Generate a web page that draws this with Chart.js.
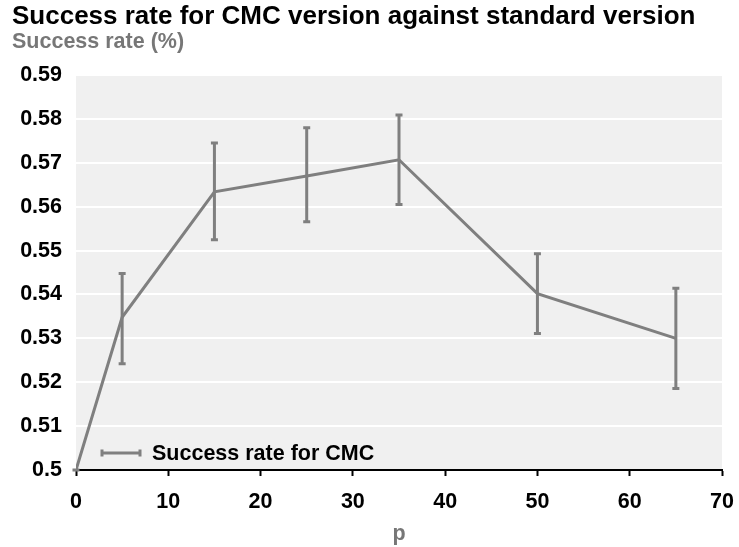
<!DOCTYPE html>
<html>
<head>
<meta charset="utf-8">
<script src="https://cdn.jsdelivr.net/npm/chart.js@4"></script>
<style>
  html, body { margin: 0; padding: 0; background: #fff; }
  #wrap { width: 739px; height: 547px; }
</style>
</head>
<body>
<div id="wrap"><canvas id="myChart" width="739" height="547"></canvas></div>
<script>
// data
var pValues = [0, 5, 15, 25, 35, 50, 65];
var successRate = [0.5, 0.5348, 0.5634, 0.5670, 0.5707, 0.5402, 0.5300];
var errLow = [0.5, 0.5242, 0.5525, 0.5566, 0.5605, 0.5311, 0.5186];
var errHigh = [0.5, 0.5448, 0.5745, 0.5780, 0.5809, 0.5493, 0.5414];
var xTicks = [0, 10, 20, 30, 40, 50, 60, 70];
var yTicks = [0.5, 0.51, 0.52, 0.53, 0.54, 0.55, 0.56, 0.57, 0.58, 0.59];
var yTickLabels = ['0.5', '0.51', '0.52', '0.53', '0.54', '0.55', '0.56', '0.57', '0.58', '0.59'];

var lineColor = '#7f7f7f';
var fontFamily = '"Liberation Sans", Arial, sans-serif';

// grey plot background
var plotBackground = {
    id: 'plotBackground',
    beforeDraw: function (chart) {
        var a = chart.chartArea;
        var ctx = chart.ctx;
        ctx.save();
        ctx.fillStyle = '#f0f0f0';
        ctx.fillRect(a.left, a.top, a.right - a.left, a.bottom - a.top);
        ctx.restore();
    }
};

// vertical error bars with caps
var errorBars = {
    id: 'errorBars',
    afterDatasetsDraw: function (chart) {
        var ctx = chart.ctx;
        var xs = chart.scales.x, ys = chart.scales.y;
        ctx.save();
        ctx.strokeStyle = lineColor;
        ctx.lineWidth = 3;
        for (var i = 0; i < pValues.length; i++) {
            var x = xs.getPixelForValue(pValues[i]);
            var lo = ys.getPixelForValue(errLow[i]);
            var hi = ys.getPixelForValue(errHigh[i]);
            ctx.beginPath();
            ctx.moveTo(x, lo);
            ctx.lineTo(x, hi);
            ctx.moveTo(x - 3.5, lo);
            ctx.lineTo(x + 3.5, lo);
            ctx.moveTo(x - 3.5, hi);
            ctx.lineTo(x + 3.5, hi);
            ctx.stroke();
        }
        ctx.restore();
    }
};

// legend drawn inside the plot, bottom left
var insideLegend = {
    id: 'insideLegend',
    afterDraw: function (chart) {
        var ctx = chart.ctx;
        var a = chart.chartArea;
        var y = a.bottom - 17;
        var x0 = a.left + 25;
        ctx.save();
        ctx.strokeStyle = lineColor;
        ctx.lineWidth = 3;
        ctx.beginPath();
        ctx.moveTo(x0, y);
        ctx.lineTo(x0 + 40, y);
        ctx.moveTo(x0 + 1, y - 3.5);
        ctx.lineTo(x0 + 1, y + 3.5);
        ctx.moveTo(x0 + 39, y - 3.5);
        ctx.lineTo(x0 + 39, y + 3.5);
        ctx.stroke();
        ctx.fillStyle = '#000';
        ctx.font = 'bold 21.5px ' + fontFamily;
        ctx.textBaseline = 'middle';
        ctx.textAlign = 'left';
        ctx.fillText(chart.data.datasets[0].label, x0 + 51, y + 1);
        ctx.restore();
    }
};

var ctx = document.getElementById('myChart');

var lineChart = new Chart(ctx, {
    type: 'line',
    data: {
        datasets: [{
            label: 'Success rate for CMC',
            data: pValues.map(function (p, i) { return { x: p, y: successRate[i] }; }),
            borderColor: lineColor,
            backgroundColor: lineColor,
            borderWidth: 3,
            pointRadius: 0,
            tension: 0
        }]
    },
    options: {
        responsive: false,
        animation: false,
        layout: { padding: { left: 12, right: 17, top: 0, bottom: 0 } },
        plugins: {
            legend: { display: false },
            tooltip: { enabled: false },
            title: {
                display: true,
                text: 'Success rate for CMC version against standard version',
                align: 'start',
                color: '#000',
                font: { family: fontFamily, size: 26, weight: 'bold', lineHeight: 1.1 },
                padding: { top: 3, bottom: 0 }
            },
            subtitle: {
                display: true,
                text: 'Success rate (%)',
                align: 'start',
                color: '#777777',
                font: { family: fontFamily, size: 21.5, weight: 'bold', lineHeight: 1 },
                padding: { top: 0, bottom: 22 }
            }
        },
        scales: {
            x: {
                type: 'linear',
                min: 0,
                max: 70,
                afterBuildTicks: function (scale) {
                    scale.ticks = xTicks.map(function (v) { return { value: v }; });
                },
                afterFit: function (scale) {
                    scale.height = 77;
                    scale.paddingLeft = 0;
                    scale.paddingRight = 0;
                },
                grid: {
                    drawOnChartArea: false,
                    drawTicks: true,
                    tickLength: 6,
                    tickWidth: 2,
                    tickColor: '#000'
                },
                border: { display: true, color: '#000', width: 2 },
                ticks: {
                    color: '#000',
                    padding: 13,
                    maxRotation: 0,
                    font: { family: fontFamily, size: 21.5, weight: 'bold' }
                },
                title: {
                    display: true,
                    text: 'p',
                    color: '#777777',
                    font: { family: fontFamily, size: 21.5, weight: 'bold', lineHeight: 1.2 },
                    padding: { top: 0, bottom: 0 }
                }
            },
            y: {
                type: 'linear',
                min: 0.5,
                max: 0.59,
                afterBuildTicks: function (scale) {
                    scale.ticks = yTicks.map(function (v) { return { value: v }; });
                },
                afterFit: function (scale) { scale.width = 64; },
                grid: {
                    color: '#ffffff',
                    lineWidth: 2,
                    drawTicks: false
                },
                border: { display: false },
                ticks: {
                    color: '#000',
                    padding: 14,
                    font: { family: fontFamily, size: 21.5, weight: 'bold' },
                    callback: function (value, index) { return yTickLabels[index]; }
                }
            }
        }
    },
    plugins: [plotBackground, errorBars, insideLegend]
});
</script>
</body>
</html>
